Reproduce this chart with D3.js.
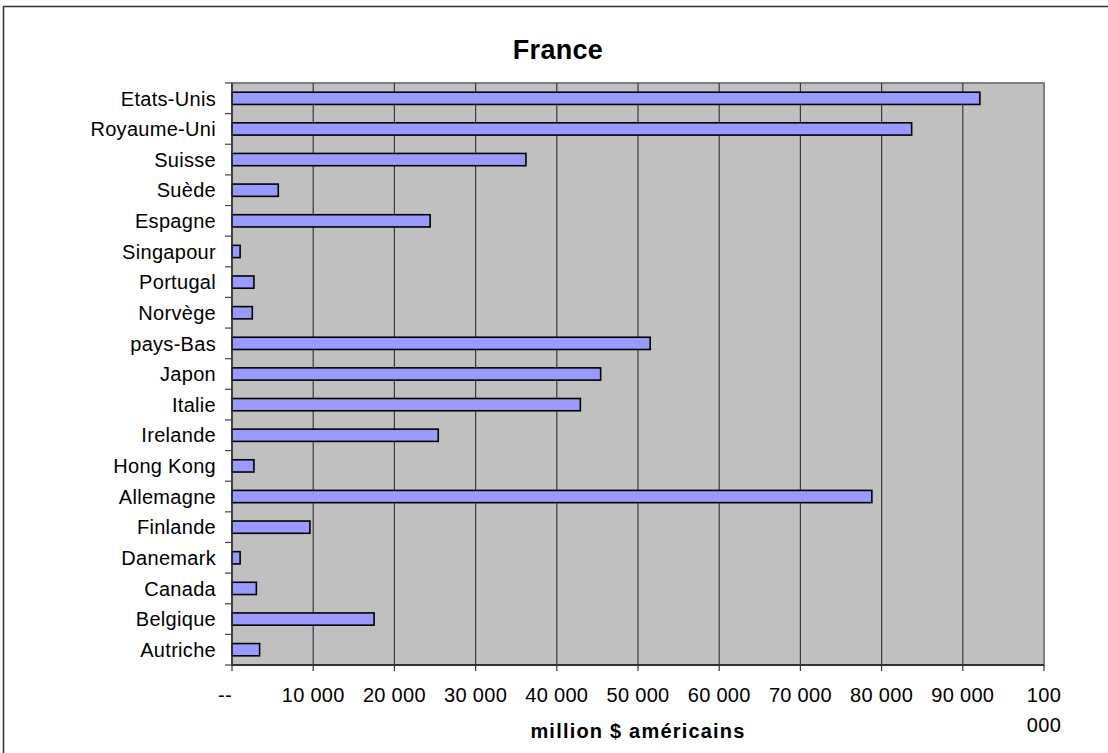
<!DOCTYPE html>
<html>
<head>
<meta charset="utf-8">
<script src="https://cdn.jsdelivr.net/npm/d3@7"></script>
<style>
  html, body { margin: 0; padding: 0; background: #fff; }
  svg { display: block; font-family: Arial, "Liberation Sans", sans-serif; }
</style>
</head>
<body>
<svg id="chart" width="1108" height="753"></svg>
<script>
// Partner countries, top to bottom
const countries = [
  "Etats-Unis", "Royaume-Uni", "Suisse", "Suède", "Espagne", "Singapour",
  "Portugal", "Norvège", "pays-Bas", "Japon", "Italie", "Irelande",
  "Hong Kong", "Allemagne", "Finlande", "Danemark", "Canada", "Belgique", "Autriche"
];
// Values in million US dollars
const values = [
  92100, 83700, 36200, 5700, 24400, 1000,
  2700, 2500, 51500, 45400, 42900, 25400,
  2700, 78800, 9600, 1000, 3000, 17500, 3400
];
const xTicks = [0, 10000, 20000, 30000, 40000, 50000, 60000, 70000, 80000, 90000, 100000];
const tickLabels = ["--", "10 000", "20 000", "30 000", "40 000", "50 000", "60 000", "70 000", "80 000", "90 000", ["100", "000"]];
const chartTitle = "France";
const axisTitle = "million $ américains";

const svg = d3.select("#chart");

// Outer chart frame
svg.append("rect")
  .attr("x", 3.5).attr("y", 6.5)
  .attr("width", 1200).attr("height", 800)
  .attr("fill", "#fff").attr("stroke", "#333").attr("stroke-width", 1.5);

const plot = { left: 232, right: 1044, top: 83, bottom: 665 };

const x = d3.scaleLinear().domain([0, 100000]).range([plot.left, plot.right]);
const y = d3.scaleBand().domain(countries).range([plot.top, plot.bottom])
  .paddingInner(0.6).paddingOuter(0.3);

// Plot background
svg.append("rect")
  .attr("x", plot.left).attr("y", plot.top)
  .attr("width", plot.right - plot.left).attr("height", plot.bottom - plot.top)
  .attr("fill", "#c0c0c0").attr("stroke", "#808080").attr("stroke-width", 2);

// Vertical gridlines
svg.append("g")
  .selectAll("line")
  .data(xTicks.slice(1, -1))
  .join("line")
  .attr("x1", d => x(d)).attr("x2", d => x(d))
  .attr("y1", plot.top).attr("y2", plot.bottom)
  .attr("stroke", "#3a3a3a").attr("stroke-width", 1.2);

// Bars
svg.append("g")
  .selectAll("rect")
  .data(countries.map((c, i) => ({ c, v: values[i] })))
  .join("rect")
  .attr("x", x(0))
  .attr("y", d => y(d.c))
  .attr("width", d => x(d.v) - x(0))
  .attr("height", y.bandwidth())
  .attr("fill", "#9999ff")
  .attr("stroke", "#000").attr("stroke-width", 1.6);

// Category axis: line, ticks on band boundaries, labels
const boundaries = d3.range(countries.length + 1).map(i => plot.top + i * (plot.bottom - plot.top) / countries.length);
svg.append("line")
  .attr("x1", plot.left).attr("x2", plot.left)
  .attr("y1", plot.top).attr("y2", plot.bottom)
  .attr("stroke", "#333").attr("stroke-width", 1.6);
svg.append("g")
  .selectAll("line")
  .data(boundaries)
  .join("line")
  .attr("x1", plot.left - 7).attr("x2", plot.left)
  .attr("y1", d => d).attr("y2", d => d)
  .attr("stroke", "#444").attr("stroke-width", 1.2);
svg.append("g")
  .selectAll("text")
  .data(countries)
  .join("text")
  .attr("x", 216)
  .attr("y", d => y(d) + y.bandwidth() / 2)
  .attr("dy", "0.36em")
  .attr("text-anchor", "end")
  .attr("font-size", 20)
  .attr("letter-spacing", 0.3)
  .attr("fill", "#000")
  .text(d => d);

// Value axis: line, ticks, labels
svg.append("line")
  .attr("x1", plot.left).attr("x2", plot.right)
  .attr("y1", plot.bottom).attr("y2", plot.bottom)
  .attr("stroke", "#333").attr("stroke-width", 2);
svg.append("g")
  .selectAll("line")
  .data(xTicks)
  .join("line")
  .attr("x1", d => x(d)).attr("x2", d => x(d))
  .attr("y1", plot.bottom).attr("y2", plot.bottom + 6)
  .attr("stroke", "#333").attr("stroke-width", 1.2);
const tl = svg.append("g")
  .selectAll("text")
  .data(xTicks.map((v, i) => ({ v, label: tickLabels[i] })))
  .join("text")
  .attr("y", 702)
  .attr("text-anchor", "middle")
  .attr("font-size", 20)
  .attr("letter-spacing", 0.3)
  .attr("fill", "#000");
tl.each(function(d) {
  const lines = Array.isArray(d.label) ? d.label : [d.label];
  d3.select(this).selectAll("tspan")
    .data(lines)
    .join("tspan")
    .attr("x", x(d.v) + (d.v === 0 ? -7 : 0))
    .attr("dy", (t, i) => i === 0 ? 0 : 30)
    .text(t => t);
});

// Axis title
svg.append("text")
  .attr("x", (plot.left + plot.right) / 2)
  .attr("y", 738)
  .attr("text-anchor", "middle")
  .attr("font-size", 20)
  .attr("font-weight", "bold")
  .attr("letter-spacing", 1.2)
  .text(axisTitle);

// Chart title
svg.append("text")
  .attr("x", 558)
  .attr("y", 59)
  .attr("text-anchor", "middle")
  .attr("font-size", 27)
  .attr("font-weight", "bold")
  .attr("letter-spacing", 0.3)
  .text(chartTitle);
</script>
</body>
</html>
